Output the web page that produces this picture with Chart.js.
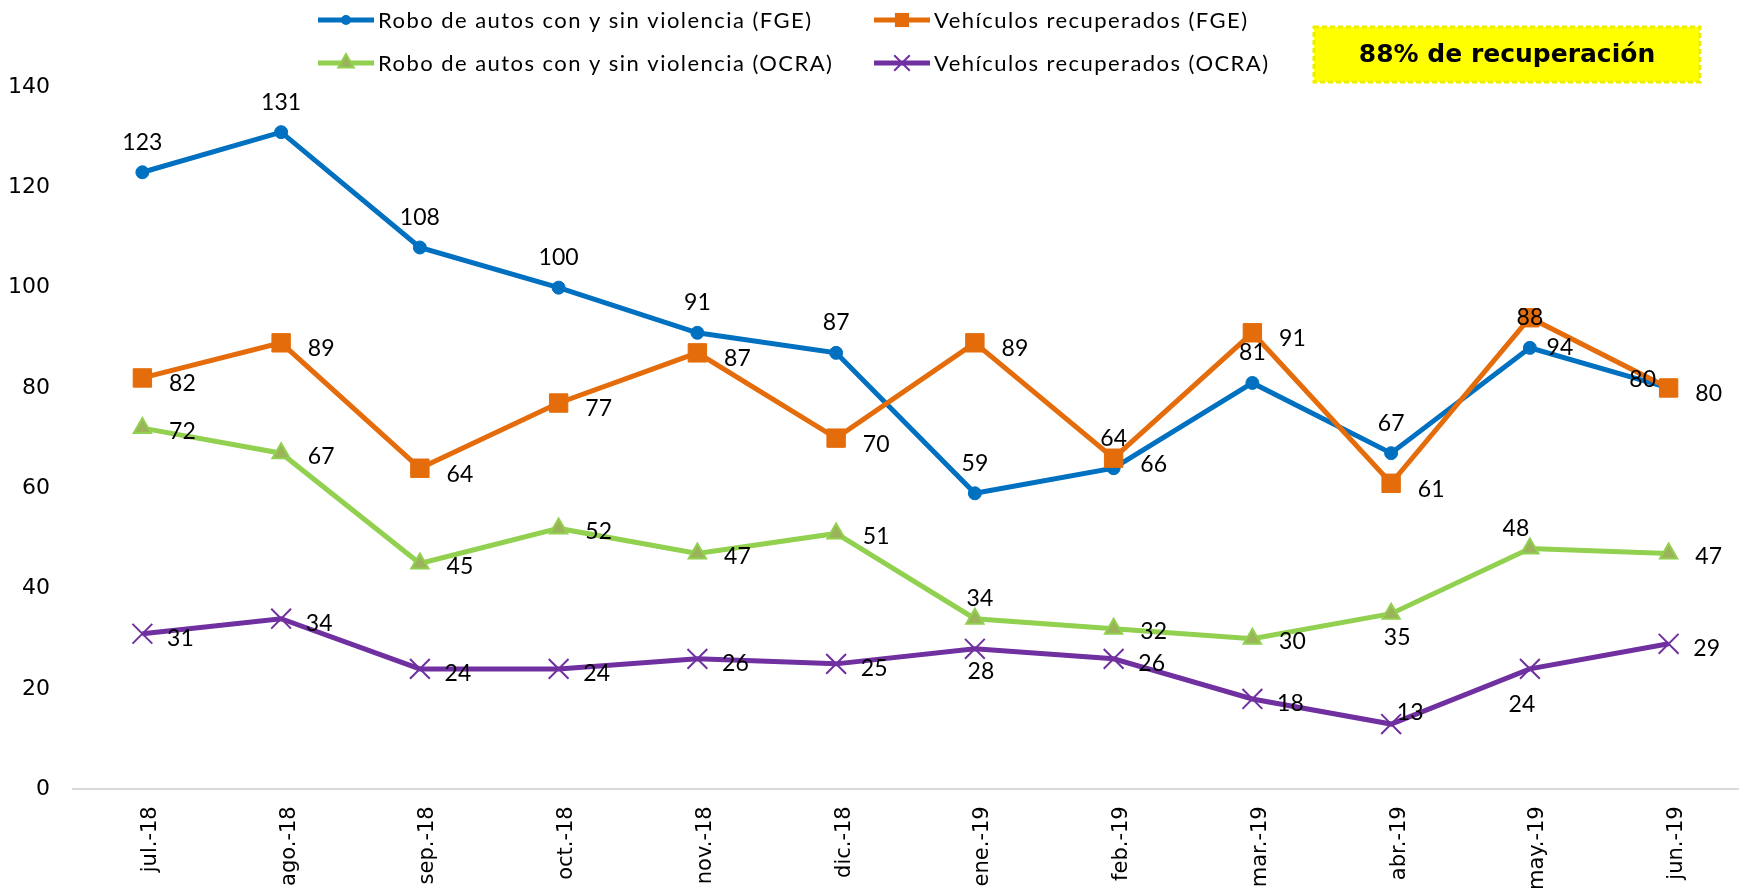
<!DOCTYPE html>
<html>
<head>
<meta charset="utf-8">
<script src="https://cdn.jsdelivr.net/npm/chart.js@4.4.0/dist/chart.umd.min.js"></script>
<style>
  html, body { margin: 0; padding: 0; background: #fff; }
  #wrap { width: 1754px; height: 893px; }
</style>
</head>
<body>
<div id="wrap"><canvas id="myChart" width="1754" height="893"></canvas></div>
<script>
// data
const months = ['jul.-18', 'ago.-18', 'sep.-18', 'oct.-18', 'nov.-18', 'dic.-18',
  'ene.-19', 'feb.-19', 'mar.-19', 'abr.-19', 'may.-19', 'jun.-19'];
const roboFGE = [123, 131, 108, 100, 91, 87, 59, 64, 81, 67, 88, 80];
const recuperadosFGE = [82, 89, 64, 77, 87, 70, 89, 66, 91, 61, 94, 80];
const roboOCRA = [72, 67, 45, 52, 47, 51, 34, 32, 30, 35, 48, 47];
const recuperadosOCRA = [31, 34, 24, 24, 26, 25, 28, 26, 18, 13, 24, 29];
const yMin = 0, yMax = 140, yStep = 20;
const badgeText = '88% de recuperación';

const BLUE = '#0070C0', ORANGE = '#E46C0A', GREEN = '#92D050', PURPLE = '#7030A0';

// where each data label sits relative to its point (centre of text)
const labelPlace = [
  { def: [0, -30], fix: { 11: [-26, -8] } },
  { def: [40, 6], fix: { 10: [30, 30] } },
  { def: [40, 3], fix: { 6: [5, -20], 9: [6, 24], 10: [-14, -20] } },
  { def: [38, 5], fix: { 6: [6, 23], 9: [19, -11], 10: [-8, 36] } },
];

// legend slots: [lineStart x, y]
const legendSlots = [[318, 20], [874, 20], [318, 63], [874, 63]];

function drawMarker(ctx, style, x, y, r, fill, stroke, lw) {
  ctx.save();
  ctx.fillStyle = fill;
  ctx.strokeStyle = stroke;
  ctx.lineWidth = lw;
  ctx.beginPath();
  if (style === 'circle') {
    ctx.arc(x, y, r, 0, Math.PI * 2);
    ctx.fill();
  } else if (style === 'rect') {
    const s = r * Math.SQRT1_2;
    ctx.rect(x - s, y - s, 2 * s, 2 * s);
    ctx.fill();
  } else if (style === 'triangle') {
    const w = r * Math.sqrt(3) / 2;
    ctx.moveTo(x, y - r);
    ctx.lineTo(x + w, y + r / 2);
    ctx.lineTo(x - w, y + r / 2);
    ctx.closePath();
    ctx.fill();
    ctx.stroke();
  } else if (style === 'crossRot') {
    const d = r * Math.SQRT1_2;
    ctx.moveTo(x - d, y - d); ctx.lineTo(x + d, y + d);
    ctx.moveTo(x + d, y - d); ctx.lineTo(x - d, y + d);
    ctx.stroke();
  }
  ctx.restore();
}

const extrasPlugin = {
  id: 'extras',
  afterDatasetsDraw(chart) {
    const ctx = chart.ctx;
    // data labels
    ctx.save();
    ctx.font = '23px Lato';
    ctx.fillStyle = '#000';
    ctx.textAlign = 'center';
    ctx.textBaseline = 'middle';
    chart.data.datasets.forEach((ds, di) => {
      const meta = chart.getDatasetMeta(di);
      const place = labelPlace[di];
      meta.data.forEach((pt, i) => {
        const off = place.fix[i] || place.def;
        ctx.fillText(String(ds.data[i]), pt.x + off[0], pt.y + off[1]);
      });
    });
    ctx.restore();
  },
  afterDraw(chart) {
    const ctx = chart.ctx;
    // legend
    ctx.save();
    chart.data.datasets.forEach((ds, di) => {
      const [x0, y] = legendSlots[di];
      ctx.strokeStyle = ds.borderColor;
      ctx.lineWidth = 5;
      ctx.beginPath();
      ctx.moveTo(x0, y);
      ctx.lineTo(x0 + 56, y);
      ctx.stroke();
      const r = ds.pointStyle === 'rect' ? 10 : ds.pointStyle === 'circle' ? 5 : ds.pointStyle === 'triangle' ? 9 : 11;
      drawMarker(ctx, ds.pointStyle, x0 + 28, y, r, ds.pointBackgroundColor, ds.pointBorderColor, ds.pointBorderWidth);
      ctx.font = '22px Lato';
      ctx.letterSpacing = '1.45px';
      ctx.fillStyle = '#000';
      ctx.textAlign = 'left';
      ctx.textBaseline = 'middle';
      ctx.fillText(ds.label, x0 + 60, y + 1);
      ctx.letterSpacing = '0px';
    });
    // badge
    const bx = 1314, by = 27, bw = 386, bh = 55;
    ctx.fillStyle = '#FFFF00';
    ctx.fillRect(bx, by, bw, bh);
    ctx.setLineDash([5, 3]);
    ctx.strokeStyle = '#EDED00';
    ctx.lineWidth = 3;
    ctx.strokeRect(bx, by, bw, bh);
    ctx.setLineDash([]);
    ctx.font = 'bold 25px "DejaVu Sans"';
    ctx.fillStyle = '#000';
    ctx.textAlign = 'center';
    ctx.textBaseline = 'middle';
    ctx.fillText(badgeText, bx + bw / 2, by + bh / 2 + 1);
    ctx.restore();
  }
};

const chartCtx = document.getElementById('myChart').getContext('2d');

new Chart(chartCtx, {
  type: 'line',
  data: {
    labels: months,
    datasets: [
      {
        label: 'Robo de autos con y sin violencia (FGE)',
        data: roboFGE,
        borderColor: BLUE,
        borderWidth: 5,
        pointStyle: 'circle',
        pointRadius: 6.5,
        pointBackgroundColor: BLUE,
        pointBorderColor: BLUE,
        pointBorderWidth: 1,
        order: 3,
      },
      {
        label: 'Vehículos recuperados (FGE)',
        data: recuperadosFGE,
        borderColor: ORANGE,
        borderWidth: 5,
        pointStyle: 'rect',
        pointRadius: 13,
        pointBackgroundColor: ORANGE,
        pointBorderColor: ORANGE,
        pointBorderWidth: 1,
        order: 2,
      },
      {
        label: 'Robo de autos con y sin violencia (OCRA)',
        data: roboOCRA,
        borderColor: GREEN,
        borderWidth: 5,
        pointStyle: 'triangle',
        pointRadius: 10,
        pointBackgroundColor: '#9BB45A',
        pointBorderColor: GREEN,
        pointBorderWidth: 2,
        order: 1,
      },
      {
        label: 'Vehículos recuperados (OCRA)',
        data: recuperadosOCRA,
        borderColor: PURPLE,
        borderWidth: 5,
        pointStyle: 'crossRot',
        pointRadius: 14,
        pointBackgroundColor: PURPLE,
        pointBorderColor: PURPLE,
        pointBorderWidth: 2,
        order: 0,
      },
    ],
  },
  options: {
    responsive: false,
    animation: false,
    devicePixelRatio: 1,
    layout: { padding: { top: 87, left: 0, right: 0, bottom: -14 } },
    plugins: {
      legend: { display: false },
      tooltip: { enabled: false },
    },
    elements: { line: { tension: 0 } },
    scales: {
      x: {
        offset: true,
        grid: { display: false, drawTicks: false, tickLength: 0 },
        border: { display: true, color: '#D9D9D9', width: 2 },
        ticks: {
          font: { family: 'DejaVu Sans', size: 21 },
          color: '#000',
          minRotation: 90,
          maxRotation: 90,
          padding: 17,
          labelOffset: 8,
          autoSkip: false,
        },
        afterFit(scale) {
          scale.paddingLeft = 0;
          scale.paddingRight = 0;
        },
      },
      y: {
        min: yMin,
        max: yMax,
        grid: { display: false, drawTicks: false, tickLength: 0 },
        border: { display: false },
        ticks: {
          stepSize: yStep,
          font: { family: 'DejaVu Sans', size: 22 },
          color: '#000',
          padding: 23,
        },
        afterFit(scale) {
          // axis came out wider than its labels; pin it
          scale.width = 73;
        },
      },
    },
  },
  plugins: [extrasPlugin],
});
</script>
</body>
</html>
